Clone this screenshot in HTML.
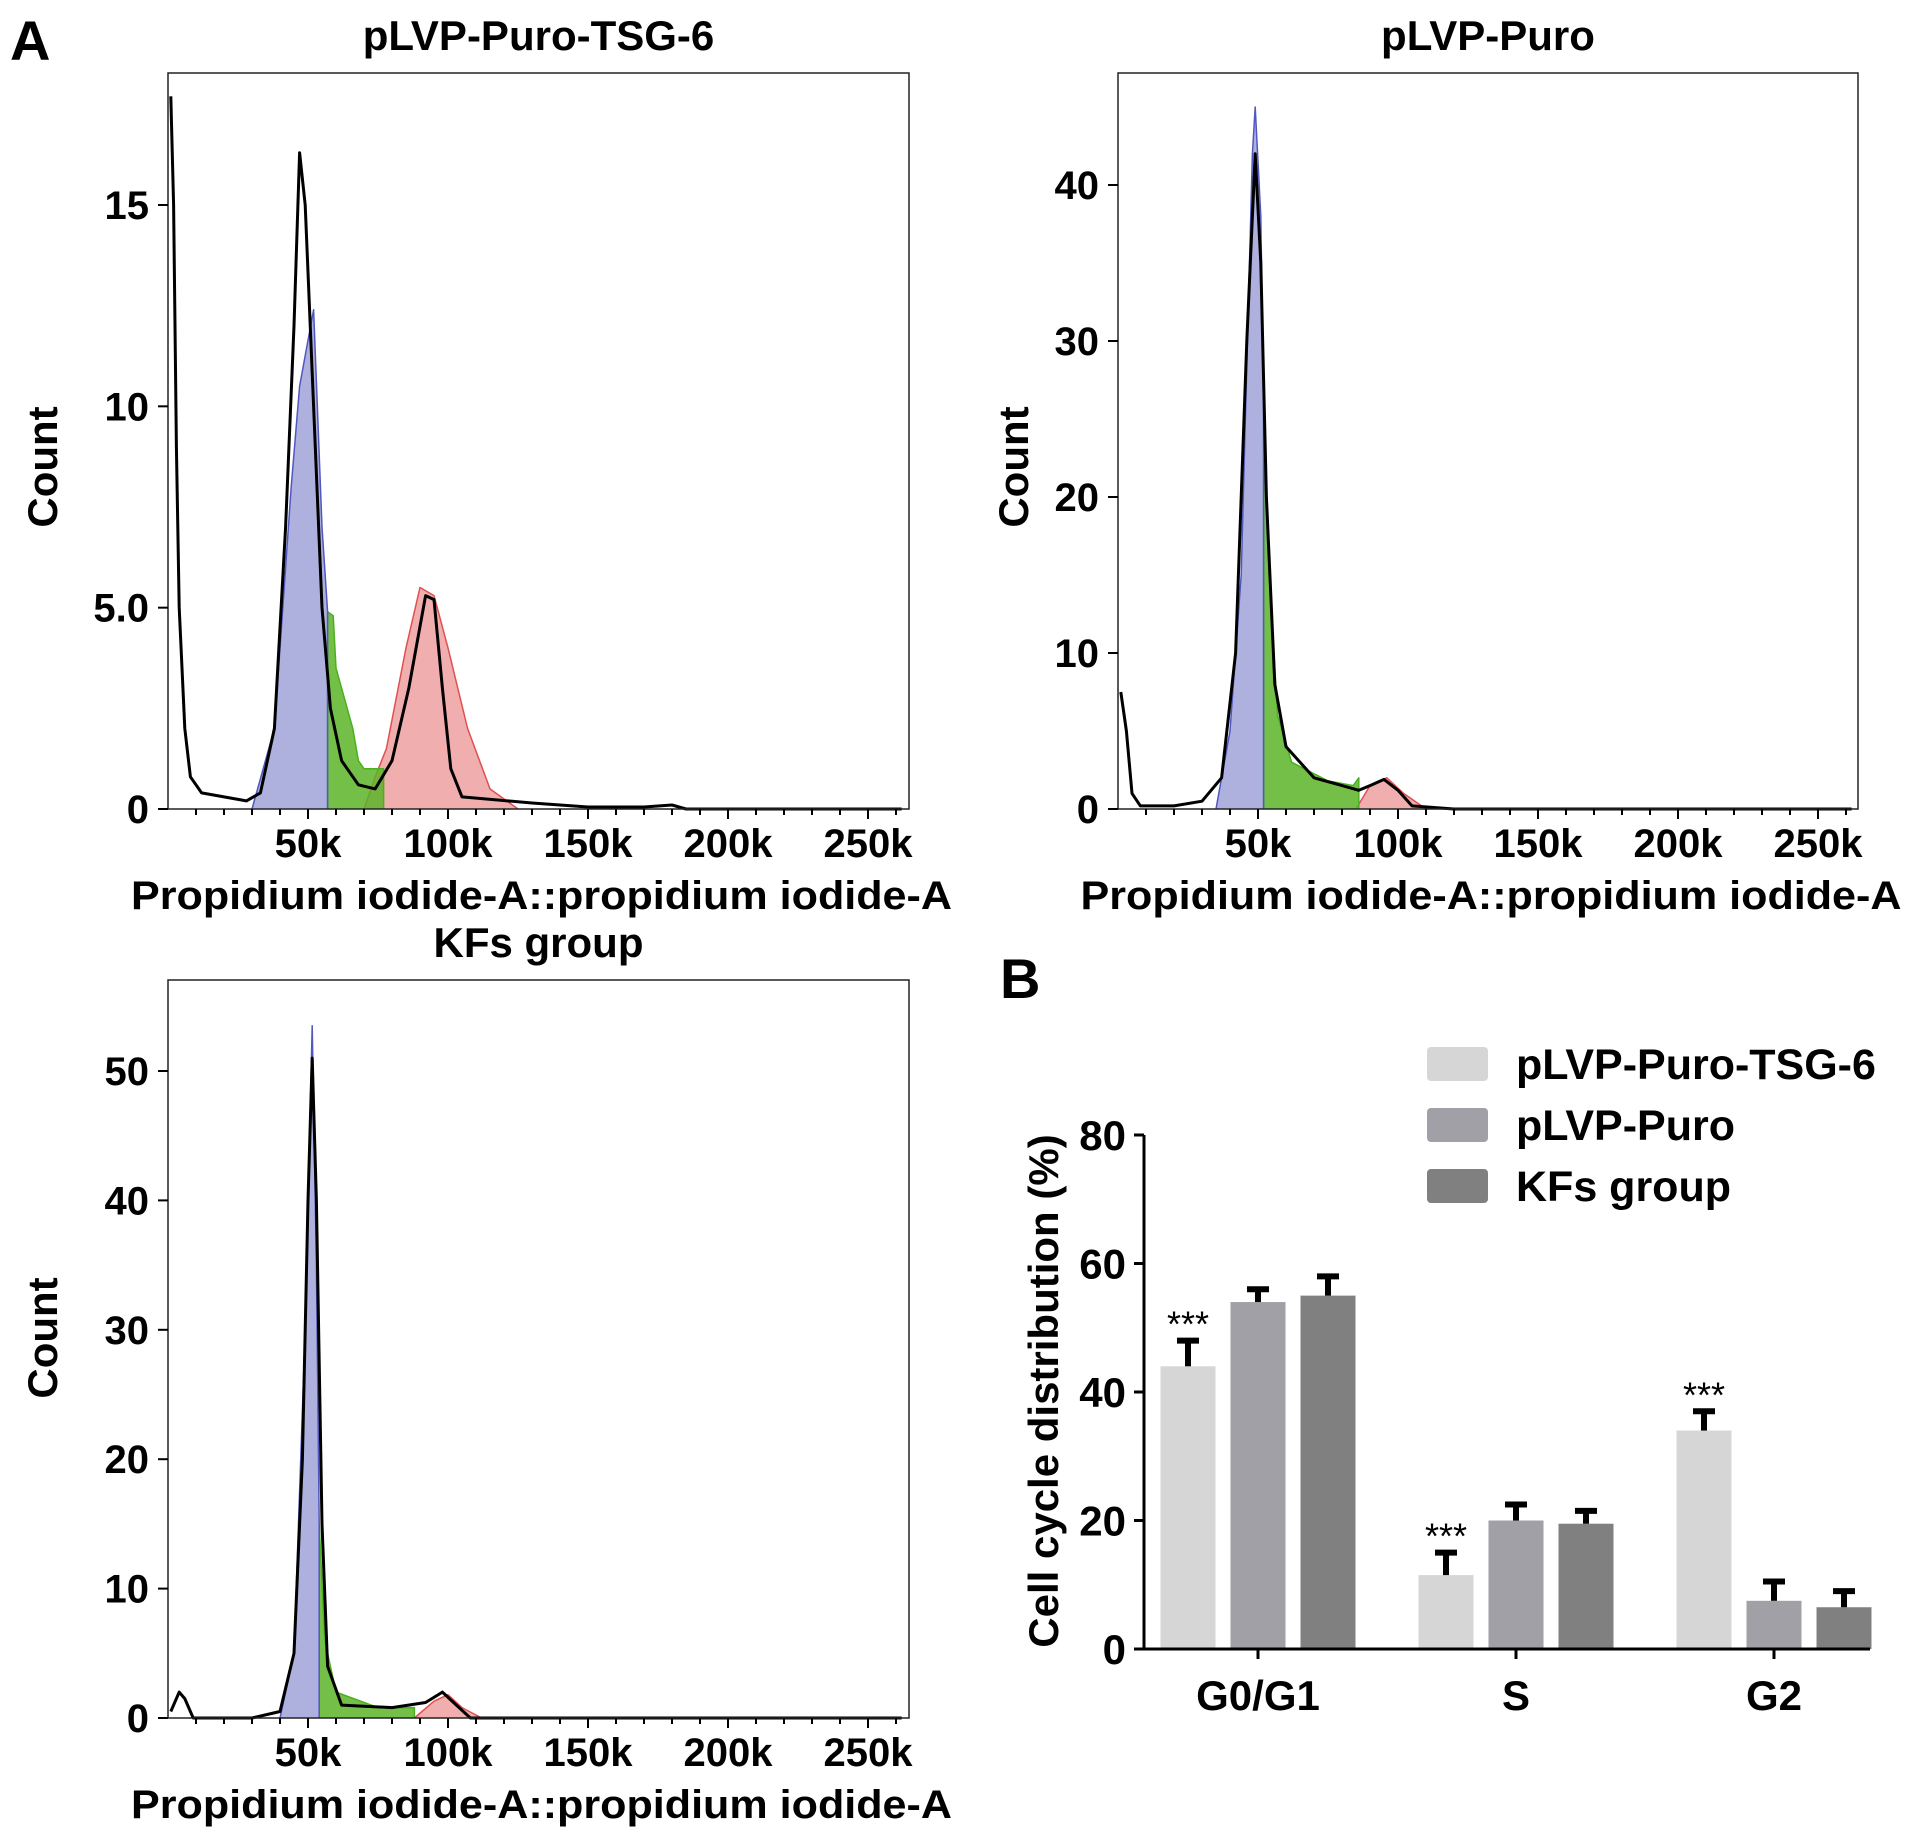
<!DOCTYPE html>
<html><head><meta charset="utf-8"><style>
html,body{margin:0;padding:0;background:#fff;}
svg{display:block;font-family:"Liberation Sans",Arial,sans-serif;font-weight:bold;}
</style></head><body>
<svg id="fig" width="1913" height="1838" viewBox="0 0 1913 1838" xmlns="http://www.w3.org/2000/svg">
<text x="10" y="60" font-size="56">A</text>
<text x="1000" y="998" font-size="56">B</text>
</svg>
<script>
// ---- Histogram data (x in k units, counts) ----
const p1Black = [[1,17.7],[2,15],[3,9],[4,5],[6,2],[8,0.8],[12,0.4],[20,0.3],[28,0.2],[33,0.4],[38,2],[42,7],[45,12],[47,16.3],[49,15],[52,10],[55,5],[58,2.5],[62,1.2],[68,0.6],[74,0.5],[80,1.2],[86,3],[92,5.3],[95,5.2],[98,3],[101,1],[105,0.3],[130,0.15],[150,0.05],[170,0.05],[180,0.1],[185,0],[262,0]];
const p1Blue = [[30,0],[38,2],[44,8],[47,10.5],[52,12.4],[55,7],[57,4.9],[57,0]];
const p1Green = [[57,0],[57,4.9],[59,4.8],[60,3.5],[62,3],[64,2.5],[66,2],[68,1.2],[70,1],[77,1],[77,0]];
const p1Red = [[70,0],[74,0.8],[78,1.5],[85,4],[90,5.5],[95,5.3],[100,4],[107,2],[115,0.5],[125,0]];
const p2Black = [[1,7.5],[3,5],[5,1],[8,0.2],[20,0.2],[30,0.5],[37,2],[42,10],[46,30],[49,42],[51,35],[53,20],[56,8],[60,4],[70,2],[80,1.5],[86,1.2],[90,1.5],[95,1.9],[100,1.2],[105,0.2],[120,0],[262,0]];
const p2Blue = [[35,0],[40,5],[44,15],[48,42],[49,45],[51,38],[52,26],[52,0]];
const p2Green = [[52,0],[52,26],[54,15],[57,6],[62,3],[75,1.8],[84,1.5],[86,2],[86,0]];
const p2Red = [[85,0],[90,1.5],[96,2],[102,1],[110,0]];
const p3Black = [[1,0.5],[4,2],[6,1.5],[9,0],[30,0],[40,0.5],[45,5],[48,20],[50,40],[51.5,51],[53,40],[55,15],[57,4],[62,1],[80,0.8],[92,1.2],[98,2],[103,1],[108,0],[262,0]];
const p3Blue = [[40,0],[45,5],[49,30],[51.5,53.5],[53,35],[54,15],[54,0]];
const p3Green = [[54,0],[54,15],[56,6],[60,2],[75,0.8],[88,0.8],[88,0]];
const p3Red = [[88,0],[95,1.3],[100,1.8],[105,0.8],[112,0]];
const xTicks = [50,100,150,200,250];
const xTickLabels = ["50k","100k","150k","200k","250k"];
const p1YTicks = [0,5,10,15];
const p1YLabels = ["0","5.0","10","15"];
const p2YTicks = [0,10,20,30,40];
const p3YTicks = [0,10,20,30,40,50];
// ---- Bar chart data ----
const phases = ["G0/G1","S","G2"];
const groups = ["pLVP-Puro-TSG-6","pLVP-Puro","KFs group"];
const tsgVals = [44,11.5,34];
const tsgErr = [4,3.5,3];
const puroVals = [54,20,7.5];
const puroErr = [2,2.5,3];
const kfVals = [55,19.5,6.5];
const kfErr = [3,2,2.5];
const barYTicks = [0,20,40,60,80];
const sigMarks = ["***","***","***"];

const svg = document.getElementById('fig');
const NS = "http://www.w3.org/2000/svg";
function mk(tag, attrs, parent){const e=document.createElementNS(NS,tag);for(const k in attrs)e.setAttribute(k,attrs[k]);(parent||svg).appendChild(e);return e;}

function histPanel(id, box, yMax0, yMaxVal, yTicks, yLabels, series, title, countPos, xlabY){
  const g = mk('g',{});
  
  
  const L=box.l,R=box.r,T=box.t,B=box.b;
  const xs = v => L + v*(140/50);
  const ys = v => B - v*(B-yMax0)/yMaxVal;
  const drawPoly=(pts,fill,stroke,name,sw)=>{
    const d = pts.map((p,i)=>(i?'L':'M')+xs(p[0]).toFixed(1)+','+ys(p[1]).toFixed(1)).join(' ');
    const p = mk('path',{d:d,fill:fill,stroke:stroke,'stroke-width':sw,'stroke-linejoin':'round'},g);
    
    
  };
  drawPoly(series.red,'rgba(232,120,120,0.6)','#e05050',id+'-g2-fill',1.5);
  drawPoly(series.green,'rgba(90,180,40,0.85)','#4caf20',id+'-s-fill',1.5);
  drawPoly(series.blue,'rgba(120,125,200,0.6)','#5058c0',id+'-g1-fill',1.5);
  drawPoly(series.black,'none','#000',id+'-histogram-line',3);
  const fr = mk('rect',{x:L,y:T,width:R-L,height:B-T,fill:'none',stroke:'#222','stroke-width':1.5},g);
  
  
  for(let v=10; v<=260; v+=10){
    const major = v%50===0;
    mk('line',{x1:xs(v),x2:xs(v),y1:B,y2:B+(major?10:6),stroke:'#000','stroke-width':2},g);
  }
  xTicks.forEach((v,i)=>{
    const t = mk('text',{x:xs(v),y:xlabY-52,'font-size':40,'text-anchor':'middle'},g);
    t.textContent = xTickLabels[i];
    
    
  });
  yTicks.forEach((v,i)=>{
    mk('line',{x1:L-10,x2:L,y1:ys(v),y2:ys(v),stroke:'#000','stroke-width':2},g);
    const t = mk('text',{x:L-19,y:ys(v)+14,'font-size':40,'text-anchor':'end'},g);
    t.textContent = yLabels[i];
    
    
  });
  const t1 = mk('text',{x:(L+R)/2,y:T-23,'font-size':42,'text-anchor':'middle'},g);
  t1.textContent = title;
  
  
  const xl = mk('text',{x:(L+R)/2+3,y:xlabY,'font-size':40,'text-anchor':'middle',textLength:821,lengthAdjust:'spacingAndGlyphs'},g);
  xl.textContent = 'Propidium iodide-A::propidium iodide-A';
  
  
  const yl = mk('text',{x:countPos[0],y:countPos[1],'font-size':42,'text-anchor':'middle',transform:'rotate(-90 '+countPos[0]+' '+countPos[1]+')'},g);
  yl.textContent = 'Count';
  
  
}
histPanel('histogram-tsg6',{l:168,r:909,t:73,b:809},205,15,p1YTicks,p1YLabels,{black:p1Black,blue:p1Blue,green:p1Green,red:p1Red},'pLVP-Puro-TSG-6',[57,467],909);
histPanel('histogram-puro',{l:1118,r:1858,t:73,b:809},185,40,p2YTicks,p2YTicks.map(String),{black:p2Black,blue:p2Blue,green:p2Green,red:p2Red},'pLVP-Puro',[1028,467],909);
histPanel('histogram-kfs',{l:168,r:909,t:980,b:1718},1071,50,p3YTicks,p3YTicks.map(String),{black:p3Black,blue:p3Blue,green:p3Green,red:p3Red},'KFs group',[57,1338],1818);

// ---- Bar chart ----
(function(){
  const g = mk('g',{});
  
  
  const X0=1144, Y0=1649, Y80=1135, XR=1870;
  const ys = v => Y0 - v*(Y0-Y80)/80;
  const colors = ['#d6d6d6','#a0a0a6','#808080'];
  const vals=[tsgVals,puroVals,kfVals], errs=[tsgErr,puroErr,kfErr];
  const groupStart=[1188,1446,1704], step=70, bw=55;
  phases.forEach((ph,pi)=>{
    for(let s=0;s<3;s++){
      const cx = groupStart[pi]+s*step;
      const v = vals[s][pi], e = errs[s][pi];
      const r = mk('rect',{x:cx-bw/2,y:ys(v),width:bw,height:Y0-ys(v),fill:colors[s]},g);
      
      
      mk('line',{x1:cx,x2:cx,y1:ys(v),y2:ys(v+e),stroke:'#000','stroke-width':6},g);
      mk('line',{x1:cx-11,x2:cx+11,y1:ys(v+e),y2:ys(v+e),stroke:'#000','stroke-width':6},g);
      if(s===0){
        const st = mk('text',{x:cx,y:ys(v+e)-4,'font-size':36,'font-weight':'normal','text-anchor':'middle'},g);
        st.textContent = sigMarks[pi];
        
        
      }
    }
    const cx = groupStart[pi]+step;
    mk('line',{x1:cx,x2:cx,y1:Y0,y2:Y0+10,stroke:'#000','stroke-width':3},g);
    const t = mk('text',{x:cx,y:1710,'font-size':42,'text-anchor':'middle'},g);
    t.textContent = ph;
    
    
  });
  mk('line',{x1:X0,x2:X0,y1:Y80,y2:Y0+1.5,stroke:'#000','stroke-width':3},g);
  mk('line',{x1:X0,x2:XR,y1:Y0,y2:Y0,stroke:'#000','stroke-width':3},g);
  barYTicks.forEach(v=>{
    mk('line',{x1:X0-10,x2:X0,y1:ys(v),y2:ys(v),stroke:'#000','stroke-width':3},g);
    const t = mk('text',{x:X0-18,y:ys(v)+15,'font-size':42,'text-anchor':'end'},g);
    t.textContent = String(v);
    
    
  });
  const yl = mk('text',{x:1058,y:1391,'font-size':42,'text-anchor':'middle',transform:'rotate(-90 1058 1391)'},g);
  yl.textContent = 'Cell cycle distribution (%)';
  
  
  groups.forEach((gn,i)=>{
    const y = 1047 + i*61;
    const r = mk('rect',{x:1427,y:y,width:61,height:34,rx:4,fill:colors[i]},g);
    
    
    const t = mk('text',{x:1516,y:y+32,'font-size':43},g);
    t.textContent = gn;
    
    
  });
})();
</script>
</body></html>
